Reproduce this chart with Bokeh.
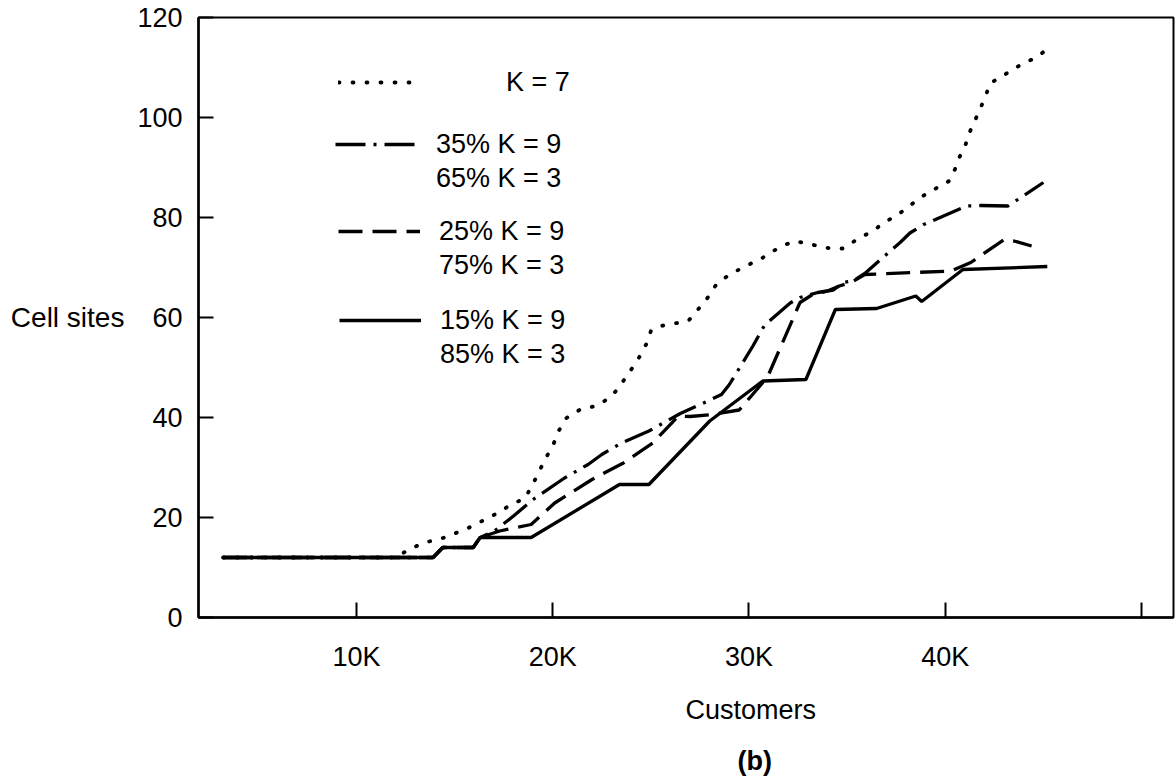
from bokeh.plotting import figure
from bokeh.models import Range1d, FixedTicker, Legend, LegendItem, Title
from bokeh.embed import file_html
from bokeh.resources import INLINE

# ---------------- data (customers in thousands, cell sites) ----------------
x_ticks = [10, 20, 30, 40, 50]
x_tick_labels = ["10K", "20K", "30K", "40K", ""]
y_ticks = [0, 20, 40, 60, 80, 100, 120]

# K = 7
k7_x = [3.2, 12.0, 12.8, 13.6, 14.4, 15.0, 15.7, 16.4, 17.2, 17.8, 18.6, 19.2, 19.6,
        20.0, 20.3, 20.7, 21.4, 22.2, 22.8, 23.3, 23.7, 24.0, 24.3, 24.8, 25.0, 25.5,
        26.9, 27.4, 27.9, 28.3, 28.8, 29.4, 30.0, 30.6, 31.1, 31.7, 32.3, 32.8, 33.2,
        33.7, 34.2, 34.8, 35.5, 36.3, 36.9, 37.6, 38.2, 38.9, 39.6, 40.2, 40.5, 40.7,
        41.0, 41.2, 41.5, 41.8, 42.1, 42.3, 42.8, 43.4, 44.0, 44.6, 45.0]
k7_y = [12, 12, 13.9, 15.1, 15.9, 16.8, 17.9, 19.3, 20.9, 22.4, 23.9, 28.3, 31.6,
        34.3, 37.3, 39.9, 41.6, 42.3, 43.7, 45.6, 47.9, 49.6, 51.3, 54.9, 57.3, 58.3,
        59.3, 61.6, 64.0, 66.4, 68.0, 69.4, 70.6, 71.7, 73.0, 74.3, 75.3, 74.9, 74.6,
        74.1, 73.8, 73.8, 75.6, 77.3, 79.0, 80.6, 82.4, 84.4, 86.0, 87.3, 89.7, 91.9,
        94.1, 96.7, 99.3, 101.9, 104.8, 106.9, 108.0, 109.5, 110.9, 111.9, 113.1]

# 35% K = 9, 65% K = 3
mix35_x = [3.2, 13.9, 14.4, 15.95, 16.3, 17.0, 18.0, 19.0, 20.6, 21.8, 22.5, 23.5,
           24.9, 26.5, 27.9, 28.6, 29.0, 30.2, 30.8, 32.1, 32.6, 33.5, 34.3, 34.8,
           35.3, 35.9, 37.7, 38.2, 38.9, 41.1, 41.8, 43.2, 45.0]
mix35_y = [12, 12, 14, 14, 16, 17.2, 20.3, 23.6, 27.9, 30.6, 32.6, 34.9,
           37.3, 40.8, 43.3, 44.6, 46.6, 54.3, 58.5, 62.9, 64.0, 65.0, 65.5, 67.0,
           67.3, 68.8, 75.0, 76.9, 78.6, 82.3, 82.4, 82.3, 87.0]

# 25% K = 9, 75% K = 3
mix25_x = [3.2, 13.9, 14.4, 15.95, 16.3, 17.3, 18.9, 20.1, 22.0, 23.6, 25.1, 26.4,
           27.0, 28.1, 29.5, 30.6, 31.0, 32.6, 33.2, 34.0, 34.6, 35.2, 35.9, 40.3,
           41.3, 43.0, 43.5, 44.4]
mix25_y = [12, 12, 14, 14, 16, 17.3, 18.6, 22.9, 27.6, 30.9, 34.9, 40.3,
           40.2, 40.6, 41.5, 46.5, 48.6, 63.0, 64.5, 65.3, 66.3, 67.0, 68.6, 69.3,
           71.0, 75.6, 75.3, 74.3]

# 15% K = 9, 85% K = 3
mix15_x = [3.2, 13.9, 14.4, 15.95, 16.3, 18.9, 23.4, 24.9, 28.0, 30.7, 32.9, 34.4,
           36.5, 38.5, 38.8, 40.9, 45.2]
mix15_y = [12, 12, 14, 14, 16, 16, 26.6, 26.6, 39.3, 47.3, 47.6, 61.6,
           61.8, 64.3, 63.2, 69.6, 70.2]

FONT = "Liberation Sans"
FS = "27px"

p = figure(width=1176, height=778, output_backend="svg", toolbar_location=None,
           x_range=Range1d(1.95, 51.63), y_range=Range1d(0, 120),
           min_border_left=198, min_border_right=3, min_border_top=17,
           min_border_bottom=161)
p.grid.visible = False
p.outline_line_color = "black"
p.outline_line_width = 2
p.background_fill_color = "white"
p.border_fill_color = "white"

for ax in (p.xaxis[0], p.yaxis[0]):
    ax.axis_line_width = 2.5
    ax.axis_line_color = "black"
    ax.major_tick_in = 15
    ax.major_tick_out = 0
    ax.major_tick_line_width = 2
    ax.minor_tick_line_color = None
    ax.major_label_text_font = FONT
    ax.major_label_text_font_size = FS
    ax.major_label_text_color = "black"

p.xaxis.ticker = FixedTicker(ticks=x_ticks)
p.xaxis.major_label_overrides = dict(zip(x_ticks, x_tick_labels))
p.xaxis.major_label_standoff = 24
p.yaxis.ticker = FixedTicker(ticks=y_ticks)
p.yaxis.major_label_standoff = 16

p.yaxis.axis_label = "Cell sites"
p.yaxis.axis_label_orientation = "horizontal"
p.yaxis.axis_label_standoff = 10
p.yaxis.axis_label_text_font = FONT
p.yaxis.axis_label_text_font_size = "28px"
p.yaxis.axis_label_text_font_style = "normal"
p.yaxis.axis_label_text_color = "black"

r_k7 = p.line(k7_x, k7_y, line_color="black", line_width=3.8, line_dash="1 13",
              line_cap="round")
r_35 = p.line(mix35_x, mix35_y, line_color="black", line_width=3.3,
              line_dash="30 8 3 8")
r_25 = p.line(mix25_x, mix25_y, line_color="black", line_width=3.3, line_dash="24 10")
r_15 = p.line(mix15_x, mix15_y, line_color="black", line_width=3.3)
r_blank = p.line([], [], line_alpha=0)

def make_legend(items, loc, standoff):
    lg = Legend(items=items, location=loc, padding=0, margin=0, spacing=0,
                glyph_width=82, glyph_height=34, label_height=34,
                label_standoff=standoff, border_line_alpha=0,
                background_fill_alpha=0, label_text_font=FONT,
                label_text_font_size=FS, label_text_color="black")
    p.add_layout(lg)

make_legend([LegendItem(label="K = 7", renderers=[r_k7])], (140, 518), 86)
make_legend([LegendItem(label="35% K = 9", renderers=[r_35]),
             LegendItem(label="65% K = 3", renderers=[r_blank])], (137, 422), 19)
make_legend([LegendItem(label="25% K = 9", renderers=[r_25]),
             LegendItem(label="75% K = 3", renderers=[r_blank])], (140, 335), 19)
make_legend([LegendItem(label="15% K = 9", renderers=[r_15]),
             LegendItem(label="85% K = 3", renderers=[r_blank])], (141, 246), 19)

t1 = Title(text="Customers", align="left", offset=487, standoff=36,
           text_font=FONT, text_font_size=FS, text_font_style="normal",
           text_color="black")
t2 = Title(text="(b)", align="left", offset=539, standoff=2,
           text_font=FONT, text_font_size=FS, text_font_style="bold",
           text_color="black")
p.add_layout(t1, "below")
p.add_layout(t2, "below")

open("out.html", "w").write(file_html(p, INLINE))
